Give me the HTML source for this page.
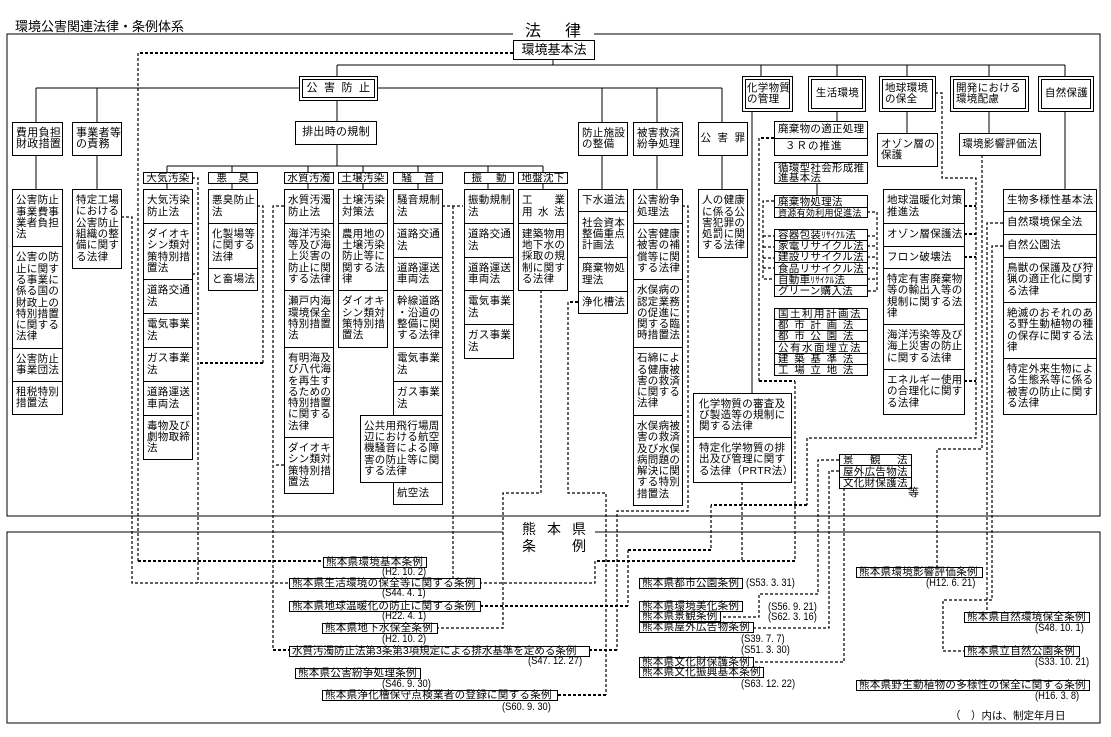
<!DOCTYPE html>
<html><head><meta charset="utf-8">
<style>
*{margin:0;padding:0}
body{width:1111px;height:737px;position:relative;overflow:hidden;background:#fff;font-family:"Liberation Sans","Noto Sans CJK JP",sans-serif;color:#000}
svg{position:absolute;left:0;top:0}
.b{position:absolute;box-sizing:border-box;border:1px solid #000;background:#fff;display:flex;align-items:center;padding-left:3px;font-size:10.5px;line-height:11.3px;letter-spacing:.3px;white-space:nowrap}
.c{justify-content:center;padding-left:0}
.d{border:4px double #000;padding-left:1px}
.k{height:12px;line-height:10px;top:172px;width:50px}
.r{line-height:10px}
.o{position:absolute;box-sizing:border-box;border:1px solid #000;background:#fff;height:11px;font-size:10.5px;line-height:9px;padding-left:2px;letter-spacing:.3px;white-space:nowrap;display:flex;align-items:center}
.t{position:absolute;font-size:11px;line-height:11px;transform:scaleX(.85);transform-origin:0 0;white-space:nowrap}
</style></head><body>
<svg width="1111" height="737" viewBox="0 0 1111 737">
<g fill="none" stroke="#000" stroke-width="1" shape-rendering="crispEdges">
<path d="M513 34H7V516H1100V34H594"/>
<path d="M503 532H7V723H1100V532H595"/>
<path d="M337 65H1065M553 59V65M337 65V76M761 65V76M837 65V76M907 65V76M989 65V76M1065 65V76"/>
<path d="M36 88H722M36 88V122M97 88V122M602 88V122M657 88V122M722 88V122M337 100V121"/>
<path d="M36 155V189M97 155V189M337 144V166M167 166H543"/>
<path d="M167 166V172M232 166V172M308 166V172M363 166V172M418 166V172M488 166V172M543 166V172"/>
<path d="M167 183V189M232 183V189M308 183V189M363 183V189M418 183V189M488 183V189M543 183V189"/>
<path d="M602 155V189M657 155V189M722 155V189M752 111V393M837 111V121M817 183V195M907 111V133M989 111V133M1065 111V189"/>
</g>
<g fill="none" stroke="#000" stroke-width="1.2" stroke-dasharray="3 2">
<path d="M138 53V561"/>
<path d="M121 217H132V583H289"/>
<path d="M192 178H198V583M192 274H198"/>
<path d="M257 206H263V363"/>
<path d="M284 206H273V650M276 465H284"/>
<path d="M442 206H463M453 206V578"/>
<path d="M541 290V493H503V628H437"/>
<path d="M568 302V493H606V695"/>
<path d="M682 206H688V511H617V650"/>
<path d="M759 138V381M795 381V561M595 561V583H480M742 482V561"/>
<path d="M935 93H942V178H976V438H807V505M711 505V550M628 550V606"/>
<path d="M774 201H763V279H774M763 236H774M763 247H774M763 258H774M763 268H774"/>
<path d="M867 212H877V291H867M867 236H877M867 246H877M867 257H877M867 268H877M867 279H877"/>
<path d="M982 155V449H937V567"/>
<path d="M1003 223H987V612"/>
<path d="M1003 246H992V600H943V651H964"/>
<path d="M839 460H818V594H759V617H720"/>
<path d="M839 471H829V628H753"/>
<path d="M844 488V662H753"/>
</g>
<g fill="none" stroke="#000" stroke-width="2" stroke-dasharray="3 2">
<path d="M513 53H138M138 561H322"/>
<path d="M263 363H198"/>
<path d="M273 650H289"/>
<path d="M578 302H568M606 695H557"/>
<path d="M617 650H589"/>
<path d="M774 138H759M759 381H795M795 561H595"/>
<path d="M807 505H711M711 550H628M628 606H480"/>
<path d="M964 206H976M964 234H976M964 257H976M964 381H976"/>
</g>
</svg>

<div style="position:absolute;left:15px;top:19px;font-size:13px;line-height:15px;white-space:nowrap">環境公害関連法律・条例体系</div>
<div style="position:absolute;left:525px;top:23px;font-size:16px;line-height:17px;white-space:nowrap"><span style="margin-right:24px">法</span>律</div>
<div style="position:absolute;left:522px;top:521px;font-size:14px;line-height:17px;white-space:nowrap"><span style="letter-spacing:11px">熊本県</span><br><span style="letter-spacing:36px">条</span>例</div>

<!-- top level -->
<div class="b c" style="left:513px;top:40px;width:82px;height:20px;font-size:13px;letter-spacing:0">環境基本法</div>
<div class="b c d" style="left:299px;top:76px;width:79px;height:25px;font-size:11px;letter-spacing:6.5px;padding-left:6px">公害防止</div>
<div class="b d" style="left:742px;top:76px;width:51px;height:36px"><span>化学物質<br>の管理</span></div>
<div class="b c d" style="left:808px;top:76px;width:58px;height:36px">生活環境</div>
<div class="b d" style="left:879px;top:76px;width:57px;height:36px;padding-left:2px"><span>地球環境<br>の保全</span></div>
<div class="b d" style="left:950px;top:76px;width:79px;height:36px;padding-left:2px"><span>開発における<br>環境配慮</span></div>
<div class="b c d" style="left:1038px;top:76px;width:56px;height:36px">自然保護</div>

<!-- row 2 -->
<div class="b" style="left:12px;top:122px;width:51px;height:34px;font-size:11px"><span>費用負担<br>財政措置</span></div>
<div class="b" style="left:72px;top:122px;width:50px;height:34px;font-size:11px"><span>事業者等<br>の責務</span></div>
<div class="b c" style="left:295px;top:121px;width:82px;height:24px;font-size:11px">排出時の規制</div>
<div class="b" style="left:578px;top:122px;width:50px;height:34px"><span>防止施設<br>の整備</span></div>
<div class="b" style="left:633px;top:122px;width:50px;height:34px"><span>被害救済<br>紛争処理</span></div>
<div class="b c" style="left:698px;top:122px;width:50px;height:34px;letter-spacing:6.5px;padding-left:6px">公害罪</div>
<div class="b" style="left:774px;top:121px;width:94px;height:18px">廃棄物の適正処理</div>
<div class="b" style="left:774px;top:138px;width:94px;height:18px;padding-left:10px;letter-spacing:1px">３Ｒの推進</div>
<div class="b" style="left:774px;top:162px;width:94px;height:22px;line-height:10px"><span>循環型社会形成推<br>進基本法</span></div>
<div class="b" style="left:877px;top:133px;width:61px;height:34px"><span>オゾン層の<br>保護</span></div>
<div class="b c" style="left:959px;top:133px;width:82px;height:23px">環境影響評価法</div>

<!-- 費用負担 column -->
<div class="b" style="left:12px;top:189px;width:51px;height:58px"><span>公害防止<br>事業費事<br>業者負担<br>法</span></div>
<div class="b" style="left:12px;top:246px;width:51px;height:103px"><span>公害の防<br>止に関す<br>る事業に<br>係る国の<br>財政上の<br>特別措置<br>に関する<br>法律</span></div>
<div class="b" style="left:12px;top:348px;width:51px;height:34px"><span>公害防止<br>事業団法</span></div>
<div class="b" style="left:12px;top:381px;width:51px;height:34px"><span>租税特別<br>措置法</span></div>
<div class="b" style="left:72px;top:189px;width:50px;height:80px"><span>特定工場<br>における<br>公害防止<br>組織の整<br>備に関す<br>る法律</span></div>

<!-- categories -->
<div class="b c k" style="left:143px">大気汚染</div>
<div class="b c k" style="left:208px;letter-spacing:11.5px;padding-left:11px">悪臭</div>
<div class="b c k" style="left:284px">水質汚濁</div>
<div class="b c k" style="left:338px">土壌汚染</div>
<div class="b c k" style="left:393px;letter-spacing:12px;padding-left:12px">騒音</div>
<div class="b c k" style="left:464px;letter-spacing:14px;padding-left:14px">振動</div>
<div class="b c k" style="left:518px">地盤沈下</div>

<!-- 大気 -->
<div class="b" style="left:143px;top:189px;width:50px;height:35px"><span>大気汚染<br>防止法</span></div>
<div class="b" style="left:143px;top:223px;width:50px;height:57px"><span>ダイオキ<br>シン類対<br>策特別措<br>置法</span></div>
<div class="b" style="left:143px;top:279px;width:50px;height:35px"><span>道路交通<br>法</span></div>
<div class="b" style="left:143px;top:313px;width:50px;height:35px"><span>電気事業<br>法</span></div>
<div class="b" style="left:143px;top:347px;width:50px;height:35px"><span>ガス事業<br>法</span></div>
<div class="b" style="left:143px;top:381px;width:50px;height:35px"><span>道路運送<br>車両法</span></div>
<div class="b" style="left:143px;top:415px;width:50px;height:45px"><span>毒物及び<br>劇物取締<br>法</span></div>
<!-- 悪臭 -->
<div class="b" style="left:208px;top:189px;width:50px;height:35px"><span>悪臭防止<br>法</span></div>
<div class="b" style="left:208px;top:223px;width:50px;height:46px"><span>化製場等<br>に関する<br>法律</span></div>
<div class="b" style="left:208px;top:268px;width:50px;height:23px">と畜場法</div>
<!-- 水質 -->
<div class="b" style="left:284px;top:189px;width:50px;height:35px"><span>水質汚濁<br>防止法</span></div>
<div class="b" style="left:284px;top:223px;width:50px;height:68px"><span>海洋汚染<br>等及び海<br>上災害の<br>防止に関<br>する法律</span></div>
<div class="b" style="left:284px;top:290px;width:50px;height:58px"><span>瀬戸内海<br>環境保全<br>特別措置<br>法</span></div>
<div class="b" style="left:284px;top:347px;width:50px;height:91px"><span>有明海及<br>び八代海<br>を再生す<br>るための<br>特別措置<br>に関する<br>法律</span></div>
<div class="b" style="left:284px;top:437px;width:50px;height:57px"><span>ダイオキ<br>シン類対<br>策特別措<br>置法</span></div>
<!-- 土壌 -->
<div class="b" style="left:338px;top:189px;width:50px;height:35px"><span>土壌汚染<br>対策法</span></div>
<div class="b" style="left:338px;top:223px;width:50px;height:68px"><span>農用地の<br>土壌汚染<br>防止等に<br>関する法<br>律</span></div>
<div class="b" style="left:338px;top:290px;width:50px;height:58px"><span>ダイオキ<br>シン類対<br>策特別措<br>置法</span></div>
<!-- 騒音 -->
<div class="b" style="left:393px;top:189px;width:50px;height:35px"><span>騒音規制<br>法</span></div>
<div class="b" style="left:393px;top:223px;width:50px;height:35px"><span>道路交通<br>法</span></div>
<div class="b" style="left:393px;top:257px;width:50px;height:34px"><span>道路運送<br>車両法</span></div>
<div class="b" style="left:393px;top:290px;width:50px;height:58px"><span>幹線道路<br>・沿道の<br>整備に関<br>する法律</span></div>
<div class="b" style="left:393px;top:347px;width:50px;height:35px"><span>電気事業<br>法</span></div>
<div class="b" style="left:393px;top:381px;width:50px;height:35px"><span>ガス事業<br>法</span></div>
<div class="b" style="left:360px;top:415px;width:83px;height:68px"><span>公共用飛行場周<br>辺における航空<br>機騒音による障<br>害の防止等に関<br>する法律</span></div>
<div class="b" style="left:393px;top:482px;width:50px;height:23px">航空法</div>
<!-- 振動 -->
<div class="b" style="left:464px;top:189px;width:50px;height:35px"><span>振動規制<br>法</span></div>
<div class="b" style="left:464px;top:223px;width:50px;height:35px"><span>道路交通<br>法</span></div>
<div class="b" style="left:464px;top:257px;width:50px;height:34px"><span>道路運送<br>車両法</span></div>
<div class="b" style="left:464px;top:290px;width:50px;height:35px"><span>電気事業<br>法</span></div>
<div class="b" style="left:464px;top:324px;width:50px;height:35px"><span>ガス事業<br>法</span></div>
<!-- 地盤沈下 -->
<div class="b" style="left:518px;top:189px;width:50px;height:35px"><span><span style="letter-spacing:22px">工業</span><br><span style="letter-spacing:5.5px">用水法</span></span></div>
<div class="b" style="left:518px;top:223px;width:50px;height:68px"><span>建築物用<br>地下水の<br>採取の規<br>制に関す<br>る法律</span></div>
<!-- 防止施設 -->
<div class="b" style="left:578px;top:189px;width:50px;height:23px">下水道法</div>
<div class="b" style="left:578px;top:211px;width:50px;height:47px"><span>社会資本<br>整備重点<br>計画法</span></div>
<div class="b" style="left:578px;top:257px;width:50px;height:35px"><span>廃棄物処<br>理法</span></div>
<div class="b" style="left:578px;top:291px;width:50px;height:23px">浄化槽法</div>
<!-- 被害救済 -->
<div class="b" style="left:633px;top:189px;width:50px;height:35px"><span>公害紛争<br>処理法</span></div>
<div class="b" style="left:633px;top:223px;width:50px;height:57px"><span>公害健康<br>被害の補<br>償等に関<br>する法律</span></div>
<div class="b" style="left:633px;top:279px;width:50px;height:69px"><span>水俣病の<br>認定業務<br>の促進に<br>関する臨<br>時措置法</span></div>
<div class="b" style="left:633px;top:347px;width:50px;height:69px"><span>石綿によ<br>る健康被<br>害の救済<br>に関する<br>法律</span></div>
<div class="b" style="left:633px;top:415px;width:50px;height:91px"><span>水俣病被<br>害の救済<br>及び水俣<br>病問題の<br>解決に関<br>する特別<br>措置法</span></div>
<!-- 公害罪 -->
<div class="b" style="left:698px;top:189px;width:50px;height:69px"><span>人の健康<br>に係る公<br>害犯罪の<br>処罰に関<br>する法律</span></div>

<!-- 生活環境 -->
<div class="b r" style="left:774px;top:195px;width:94px;height:13px">廃棄物処理法</div>
<div class="b r" style="left:774px;top:207px;width:94px;height:11px;font-size:9px">資源有効利用促進法</div>
<div class="b r" style="left:774px;top:229px;width:94px;height:12px">容器包装<span style="font-size:9px">ﾘｻｲｸﾙ</span>法</div>
<div class="b r" style="left:774px;top:240px;width:94px;height:12px">家電リサイクル法</div>
<div class="b r" style="left:774px;top:251px;width:94px;height:12px">建設リサイクル法</div>
<div class="b r" style="left:774px;top:262px;width:94px;height:13px">食品リサイクル法</div>
<div class="b r" style="left:774px;top:274px;width:94px;height:12px">自動車<span style="font-size:9px">ﾘｻｲｸﾙ</span>法</div>
<div class="b r" style="left:774px;top:285px;width:94px;height:12px">グリーン購入法</div>

<div class="b r" style="left:774px;top:308px;width:94px;height:12px;letter-spacing:1.5px">国土利用計画法</div>
<div class="b r" style="left:774px;top:319px;width:94px;height:12px;letter-spacing:5.7px">都市計画法</div>
<div class="b r" style="left:774px;top:330px;width:94px;height:12px;letter-spacing:5.7px">都市公園法</div>
<div class="b r" style="left:774px;top:341px;width:94px;height:13px;letter-spacing:1.5px">公有水面埋立法</div>
<div class="b r" style="left:774px;top:353px;width:94px;height:12px;letter-spacing:5.7px">建築基準法</div>
<div class="b r" style="left:774px;top:364px;width:94px;height:12px;letter-spacing:5.7px">工場立地法</div>

<!-- 地球環境 -->
<div class="b" style="left:883px;top:189px;width:82px;height:35px"><span>地球温暖化対策<br>推進法</span></div>
<div class="b" style="left:883px;top:223px;width:82px;height:24px">オゾン層保護法</div>
<div class="b" style="left:883px;top:246px;width:82px;height:23px">フロン破壊法</div>
<div class="b" style="left:883px;top:268px;width:82px;height:57px"><span>特定有害廃棄物<br>等の輸出入等の<br>規制に関する法<br>律</span></div>
<div class="b" style="left:883px;top:324px;width:82px;height:46px"><span>海洋汚染等及び<br>海上災害の防止<br>に関する法律</span></div>
<div class="b" style="left:883px;top:369px;width:82px;height:46px"><span>エネルギー使用<br>の合理化に関す<br>る法律</span></div>

<!-- 自然保護 -->
<div class="b" style="left:1003px;top:189px;width:94px;height:23px">生物多様性基本法</div>
<div class="b" style="left:1003px;top:211px;width:94px;height:24px">自然環境保全法</div>
<div class="b" style="left:1003px;top:234px;width:94px;height:24px">自然公園法</div>
<div class="b" style="left:1003px;top:257px;width:94px;height:46px"><span>鳥獣の保護及び狩<br>猟の適正化に関す<br>る法律</span></div>
<div class="b" style="left:1003px;top:302px;width:94px;height:57px"><span>絶滅のおそれのあ<br>る野生動植物の種<br>の保存に関する法<br>律</span></div>
<div class="b" style="left:1003px;top:358px;width:94px;height:57px"><span>特定外来生物によ<br>る生態系等に係る<br>被害の防止に関す<br>る法律</span></div>

<!-- 化学物質 -->
<div class="b" style="left:693px;top:393px;width:99px;height:45px;padding-left:5px"><span>化学物質の審査及<br>び製造等の規制に<br>関する法律</span></div>
<div class="b" style="left:693px;top:437px;width:99px;height:46px;padding-left:5px"><span>特定化学物質の排<br>出及び管理に関す<br>る法律（PRTR法）</span></div>

<!-- 景観 -->
<div class="b r" style="left:839px;top:454px;width:73px;height:12px;letter-spacing:16.5px">景観法</div>
<div class="b r" style="left:839px;top:465px;width:73px;height:13px">屋外広告物法</div>
<div class="b r" style="left:839px;top:477px;width:73px;height:12px">文化財保護法</div>
<div style="position:absolute;left:908px;top:487px;font-size:11px;line-height:12px">等</div>

<!-- ordinances -->
<div class="o" style="left:323px;top:557px;width:104px">熊本県環境基本条例</div>
<div class="o" style="left:289px;top:578px;width:192px">熊本県生活環境の保全等に関する条例</div>
<div class="o" style="left:289px;top:601px;width:192px">熊本県地球温暖化の防止に関する条例</div>
<div class="o" style="left:322px;top:623px;width:116px">熊本県地下水保全条例</div>
<div class="o" style="left:289px;top:646px;width:301px;letter-spacing:0">水質汚濁防止法第3条第3項規定による排水基準を定める条例</div>
<div class="o" style="left:295px;top:668px;width:126px">熊本県公害紛争処理条例</div>
<div class="o" style="left:322px;top:690px;width:236px">熊本県浄化槽保守点検業者の登録に関する条例</div>
<div class="o" style="left:639px;top:578px;width:104px">熊本県都市公園条例</div>
<div class="o" style="left:639px;top:601px;width:104px">熊本県環境美化条例</div>
<div class="o" style="left:639px;top:611px;width:82px">熊本県景観条例</div>
<div class="o" style="left:639px;top:622px;width:115px">熊本県屋外広告物条例</div>
<div class="o" style="left:639px;top:657px;width:115px">熊本県文化財保護条例</div>
<div class="o" style="left:639px;top:667px;width:125px">熊本県文化振興基本条例</div>
<div class="o" style="left:856px;top:567px;width:127px">熊本県環境影響評価条例</div>
<div class="o" style="left:964px;top:612px;width:126px">熊本県自然環境保全条例</div>
<div class="o" style="left:964px;top:646px;width:116px">熊本県立自然公園条例</div>
<div class="o" style="left:856px;top:680px;width:234px">熊本県野生動植物の多様性の保全に関する条例</div>

<!-- dates -->
<div class="t" style="left:382px;top:567px">(H2. 10. 2)</div>
<div class="t" style="left:382px;top:588px">(S44. 4. 1)</div>
<div class="t" style="left:382px;top:611px">(H22. 4. 1)</div>
<div class="t" style="left:382px;top:634px">(H2. 10. 2)</div>
<div class="t" style="left:528px;top:656px">(S47. 12. 27)</div>
<div class="t" style="left:382px;top:679px">(S46. 9. 30)</div>
<div class="t" style="left:502px;top:702px">(S60. 9. 30)</div>
<div class="t" style="left:746px;top:578px">(S53. 3. 31)</div>
<div class="t" style="left:768px;top:602px">(S56. 9. 21)</div>
<div class="t" style="left:768px;top:612px">(S62. 3. 16)</div>
<div class="t" style="left:741px;top:634px">(S39. 7. 7)</div>
<div class="t" style="left:741px;top:645px">(S51. 3. 30)</div>
<div class="t" style="left:741px;top:679px">(S63. 12. 22)</div>
<div class="t" style="left:926px;top:578px">(H12. 6. 21)</div>
<div class="t" style="left:1035px;top:623px">(S48. 10. 1)</div>
<div class="t" style="left:1035px;top:657px">(S33. 10. 21)</div>
<div class="t" style="left:1035px;top:691px">(H16. 3. 8)</div>

<div style="position:absolute;left:950px;top:711px;font-size:10.5px;line-height:11px;white-space:nowrap">（　）内は、制定年月日</div>
</body></html>
